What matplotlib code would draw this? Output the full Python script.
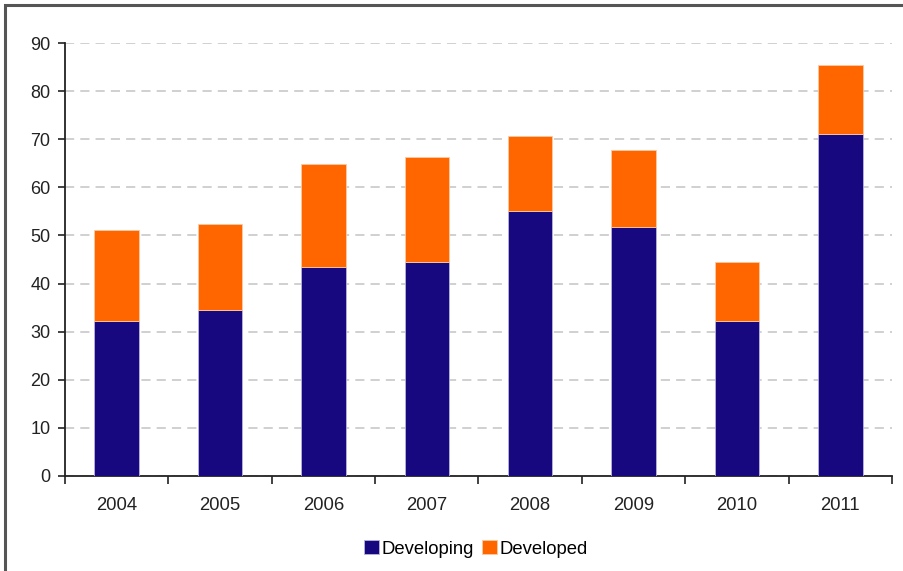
import matplotlib
matplotlib.use("Agg")
import matplotlib.pyplot as plt
from matplotlib.patches import Rectangle
import numpy as np

plt.rcParams['font.family'] = ['Liberation Sans', 'DejaVu Sans']

years = ["2004", "2005", "2006", "2007", "2008", "2009", "2010", "2011"]
developing = [32.3, 34.4, 43.4, 44.4, 55.1, 51.8, 32.2, 71.1]
totals = [51.1, 52.3, 64.8, 66.4, 70.7, 67.7, 44.5, 85.4]
developed = [t - d for t, d in zip(totals, developing)]

navy = "#170880"
orange = "#FF6600"

fig = plt.figure(figsize=(9.04, 5.71), dpi=100)
ax = fig.add_axes([65/904, 1-476/571, (892-65)/904, (476-43)/571])

x = np.arange(len(years))
w = 0.43
ax.bar(x, developing, w, color=navy, label="Developing", zorder=3,
       edgecolor="#b8b4dc", linewidth=0.6)
ax.bar(x, developed, w, bottom=developing, color=orange, label="Developed", zorder=3,
       edgecolor="#ffc9a0", linewidth=0.6)

ax.set_xlim(-0.5, len(years) - 0.5)
ax.set_ylim(0, 90)
ax.set_yticks(range(0, 91, 10))
ax.set_xticks(x)
ax.set_xticklabels(years)
ax.set_xticks(np.arange(-0.5, len(years), 1.0), minor=True)
ax.tick_params(axis='x', which='major', length=0, pad=15, labelsize=13.3, colors='#222222')
ax.tick_params(axis='x', which='minor', length=6, width=1.2, direction='out', color='#222222')
ax.tick_params(axis='y', length=5, width=1.2, direction='out', pad=5.5, labelsize=13, colors='#222222')

ax.yaxis.grid(True, linestyle=(0, (6, 4)), color='#c4c4c4', linewidth=1.1, zorder=0)
ax.set_axisbelow(True)
for s in ['top', 'right']:
    ax.spines[s].set_visible(False)
for s in ['left', 'bottom']:
    ax.spines[s].set_color('#222222')
    ax.spines[s].set_linewidth(1.3)

leg = fig.legend(loc='center', bbox_to_anchor=(476/904, 1-549/571), ncol=2, frameon=False,
                 fontsize=13.3, handlelength=0.78, handleheight=0.78, handletextpad=0.15,
                 columnspacing=0.45)

# outer frame
fig.patches.append(Rectangle((5/904, -0.05), 1.1, 1 - 5/571 + 0.05, transform=fig.transFigure,
                             fill=False, edgecolor='#555555', linewidth=2.2, zorder=10))

fig.savefig("out.png", dpi=100)
